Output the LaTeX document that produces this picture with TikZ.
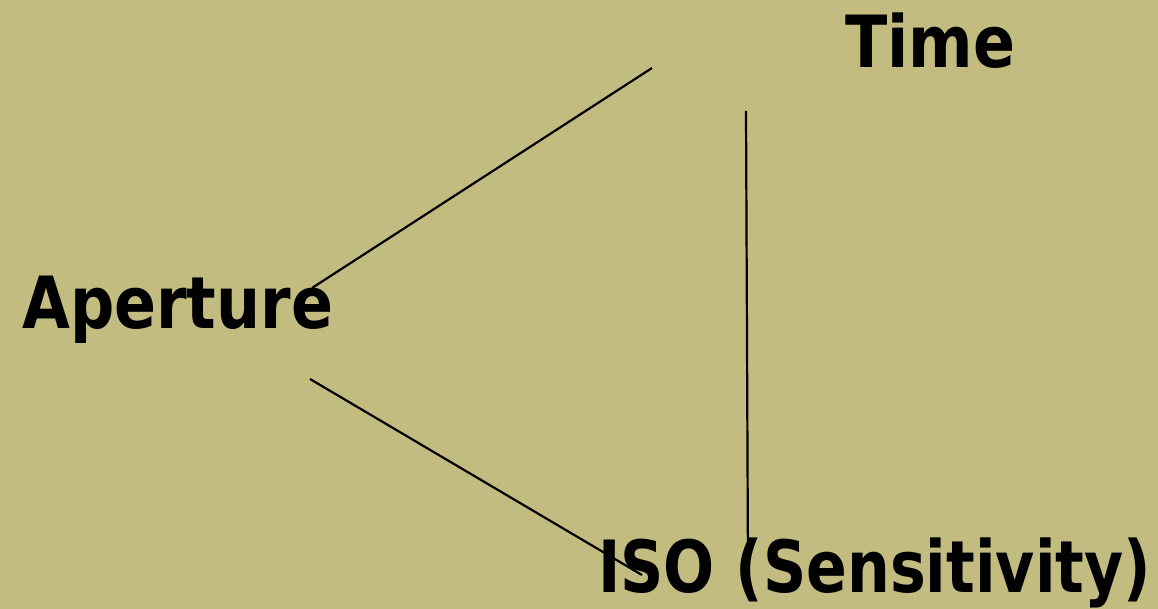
\documentclass[tikz,border=0pt]{standalone}
\usepackage{fontspec}
\setmainfont{DejaVu Sans}
\definecolor{bg}{HTML}{C3BC80}
\tikzset{lbl/.style={anchor=base west, inner sep=0pt, font=\fontsize{72}{80}\selectfont\bfseries},
  conn/.style={line width=2.2pt, black}}
\begin{document}
\begin{tikzpicture}[x=1pt,y=-1pt]
\fill[bg] (0,0) rectangle (1158,609);
\useasboundingbox (0,0) rectangle (1158,609);
\node[lbl] (time) at (845,68) {\scalebox{0.86}[1]{Time}};
\node[lbl] (aperture) at (22,328) {\scalebox{0.86}[1]{Aperture}};
\node[lbl] (iso) at (598,592) {\scalebox{0.835}[1]{ISO (Sensitivity)}};
\coordinate (t1) at (652,68);
\coordinate (a1) at (312,288);
\coordinate (t2) at (746,111);
\coordinate (i2) at (748,572);
\coordinate (a3) at (310,379);
\coordinate (i3) at (642,575);
\draw[conn] (t1) -- (a1);
\draw[conn] (t2) -- (i2);
\draw[conn] (a3) -- (i3);
\end{tikzpicture}
\end{document}
